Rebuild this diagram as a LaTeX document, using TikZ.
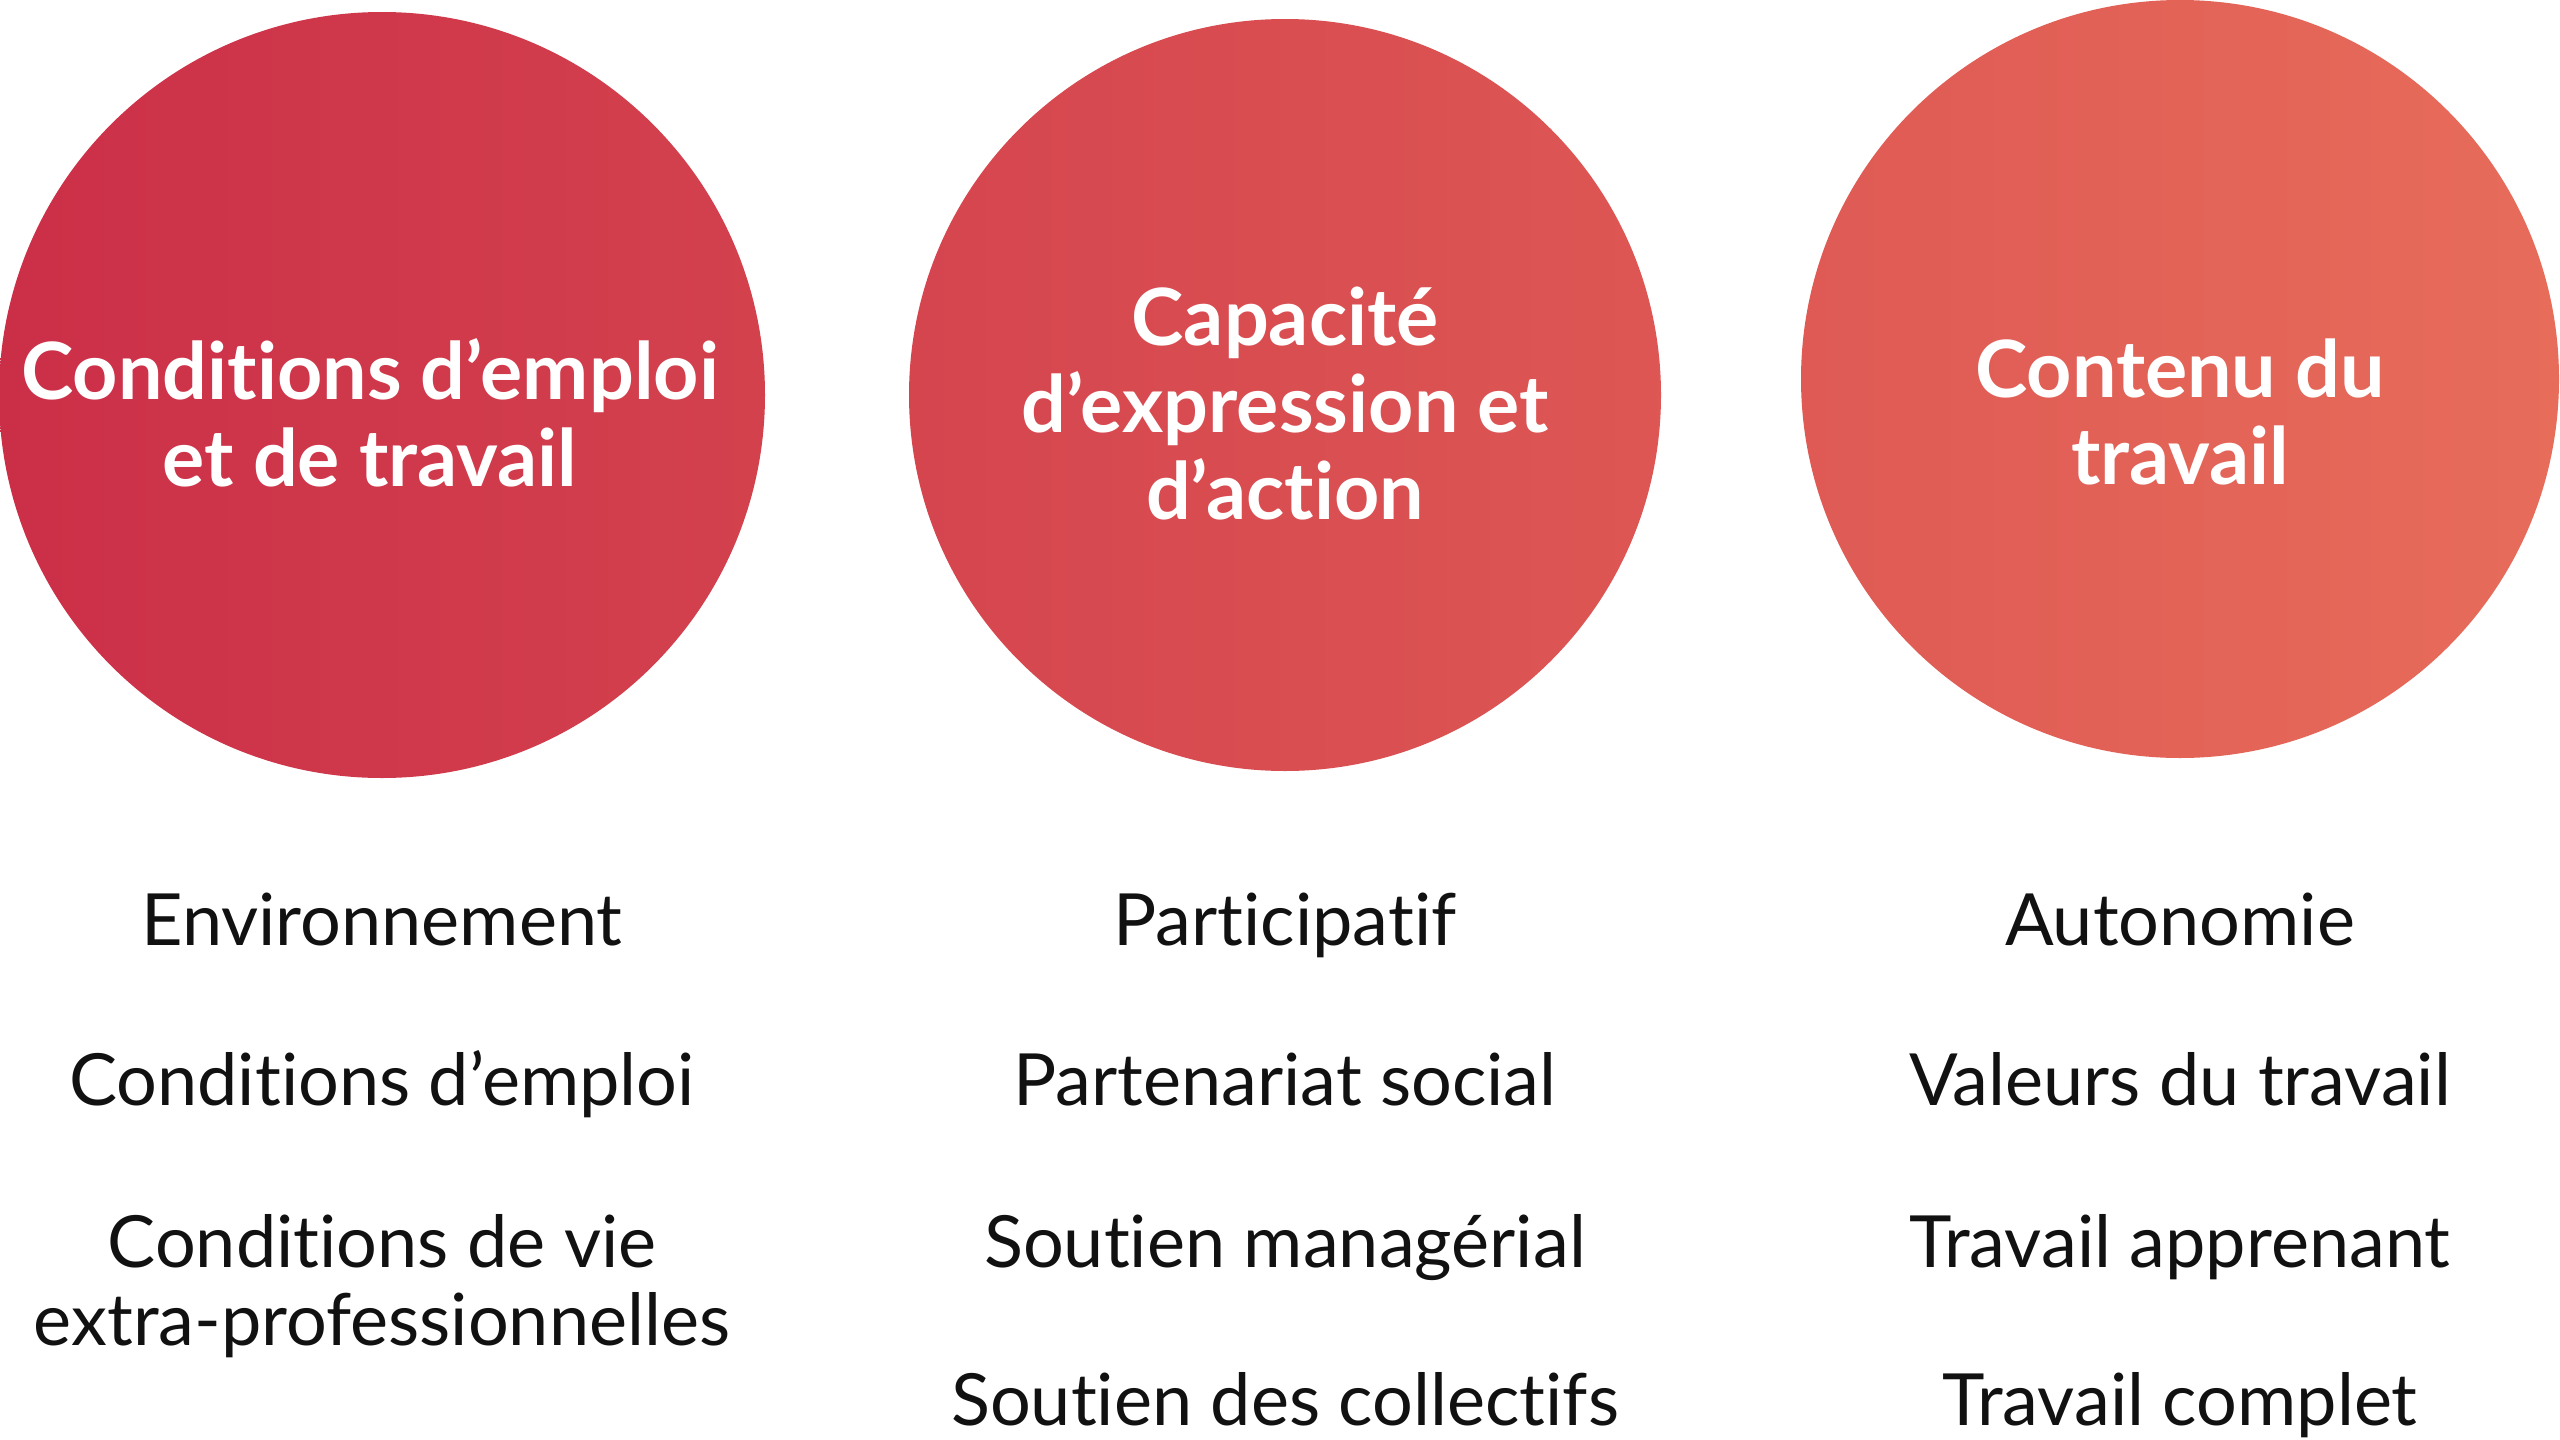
\documentclass[tikz,border=0pt]{standalone}
\usepackage{fontspec}
\setmainfont{Lato}[Ligatures=NoCommon]
\definecolor{gradL}{HTML}{CB2F48}
\definecolor{gradR}{HTML}{E76C5A}
\definecolor{ink}{HTML}{111111}
\begin{document}
\begin{tikzpicture}[x=1pt,y=-1pt,
  bubble/.style={circle, inner sep=0pt, minimum size=#1},
  title/.style={text=white, font=\fontsize{79}{87}\selectfont\bfseries, align=center, inner sep=0pt},
  item/.style={text=ink, font=\fontsize{72}{78}\selectfont, align=center, anchor=base, inner sep=0pt}]
\useasboundingbox (0,0) rectangle (2560,1440);
\coordinate (p1) at (382,395);
\coordinate (p2) at (1285,395);
\coordinate (p3) at (2180,379);
\shade[left color=gradL, right color=gradR]
  (p1) circle[radius=383] (p2) circle[radius=376] (p3) circle[radius=379];
\node[bubble=766pt] (c1) at (p1) {};
\node[bubble=752pt] (c2) at (p2) {};
\node[bubble=758pt] (c3) at (p3) {};
\node[title] (t1) at (370,413) {Conditions d’emploi\\et de travail};
\node[title] (t2) at (1285,404) {Capacité\\d’expression et\\d’action};
\node[title] (t3) at (2180,412) {Contenu du\\travail};
\node[item] (a1) at (382,945) {Environnement};
\node[item] (a2) at (382,1105) {Conditions d’emploi};
\node[item] (a3) at (382,1345) {Conditions de vie\\extra-professionnelles};
\node[item] (b1) at (1285,945) {Participatif};
\node[item] (b2) at (1285,1105) {Partenariat social};
\node[item] (b3) at (1285,1267) {Soutien managérial};
\node[item] (b4) at (1285,1425) {Soutien des collectifs};
\node[item] (d1) at (2180,945) {Autonomie};
\node[item] (d2) at (2180,1105) {Valeurs du travail};
\node[item] (d3) at (2180,1267) {Travail apprenant};
\node[item] (d4) at (2180,1425) {Travail complet};
\end{tikzpicture}
\end{document}
